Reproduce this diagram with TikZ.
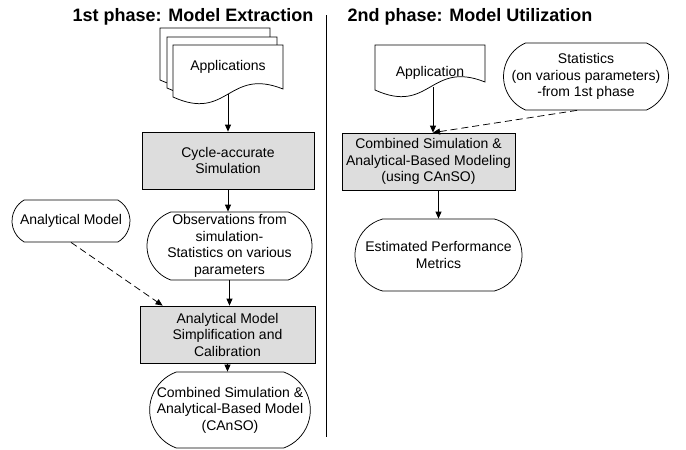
\documentclass[tikz,border=0pt]{standalone}
\usepackage{fontspec}
\setmainfont{Liberation Sans}
\usetikzlibrary{arrows.meta,shapes.misc,calc}
\definecolor{boxgray}{RGB}{221,221,221}
\newcommand\docshape[4]{\draw[docline] (#1,#3) -- (#2,#3) -- (#2,#4-8) .. controls ({(#1+#2)/2},#4-30) and ({(#1+#2)/2},#4+25) .. (#1,#4) -- cycle;}
\begin{document}
\begin{tikzpicture}[x=1pt,y=-1pt,
  font=\fontsize{14}{16.5}\selectfont,
  procbox/.style={draw, fill=boxgray, rectangle, inner sep=0pt, align=center, line width=0.75pt},
  term/.style={draw, fill=white, rounded rectangle, rounded rectangle arc length=140, inner sep=0pt, align=center, line width=0.75pt},
  docline/.style={draw, fill=white, line width=0.75pt},
  txt/.style={inner sep=0pt, align=center},
  arr/.style={-{Triangle[length=7pt,width=6pt]}, line width=0.75pt},
  dasharr/.style={arr, dash pattern=on 7pt off 4pt},
  title/.style={font=\fontsize{18}{20}\selectfont\bfseries, anchor=base, inner sep=0pt}]
\useasboundingbox (0,0) rectangle (686,450);

% titles and divider
\node[title] (t1) at (193,21) {1st phase: Model Extraction};
\node[title] (t2) at (470,21) {2nd phase: Model Utilization};
\coordinate (divtop) at (326,15);
\coordinate (divbot) at (326,437);
\draw[line width=0.75pt] (divtop) -- (divbot);

% ---- first phase ----
\docshape{160}{270}{28}{80}
\docshape{167}{277}{37}{88}
\docshape{173}{283}{45}{97}
\node[txt] (apps) at (228,67) {Applications};
\coordinate (appsbot) at (228,94);

\node[procbox, minimum width=172, minimum height=57] (cyc) at (228,160.5) {Cycle-accurate\\Simulation};
\node[term, minimum width=165, minimum height=68] (obs) at (229.5,246) {Observations from\\simulation-\\Statistics on various\\parameters};
\node[term, rounded rectangle arc length=120, minimum width=118, minimum height=42] (am) at (71,221) {Analytical Model};
\node[procbox, minimum width=175, minimum height=57] (simp) at (227.5,334.5) {Analytical Model\\Simplification and\\Calibration};
\node[term, minimum width=156, minimum height=76] (cans) at (230,410) {Combined Simulation \&\\Analytical-Based Model\\(CAnSO)};

\draw[arr] (appsbot) -- (appsbot |- cyc.north);
\draw[arr] (cyc.south) -- (cyc.south |- obs.north);
\draw[arr] (obs.south) -- (obs.south |- simp.north);
\draw[arr] (simp.south) -- (simp.south |- cans.north);
\draw[dasharr] (am.south) -- ($(simp.north west)+(23,0)$);

% ---- second phase ----
\docshape{375}{485}{45}{90}
\node[txt] (app) at (430,73) {Application};
\coordinate (appbot) at (433,87);
\node[term, rounded rectangle arc length=133, minimum width=162, minimum height=67] (stats) at (586,76.5) {Statistics\\(on various parameters)\\-from 1st phase};
\node[procbox, minimum width=173, minimum height=57] (comb) at (428.5,161.5) {Combined Simulation \&\\Analytical-Based Modeling\\(using CAnSO)};
\node[term, rounded rectangle arc length=150, minimum width=167, minimum height=72] (est) at (438.5,255) {Estimated Performance\\Metrics};

\draw[arr] (appbot) -- (appbot |- comb.north);
\draw[dasharr] ($(stats.south)+(-9,0)$) -- (appbot |- comb.north);
\draw[arr] (est.north |- comb.south) -- (est.north);
\end{tikzpicture}
\end{document}
